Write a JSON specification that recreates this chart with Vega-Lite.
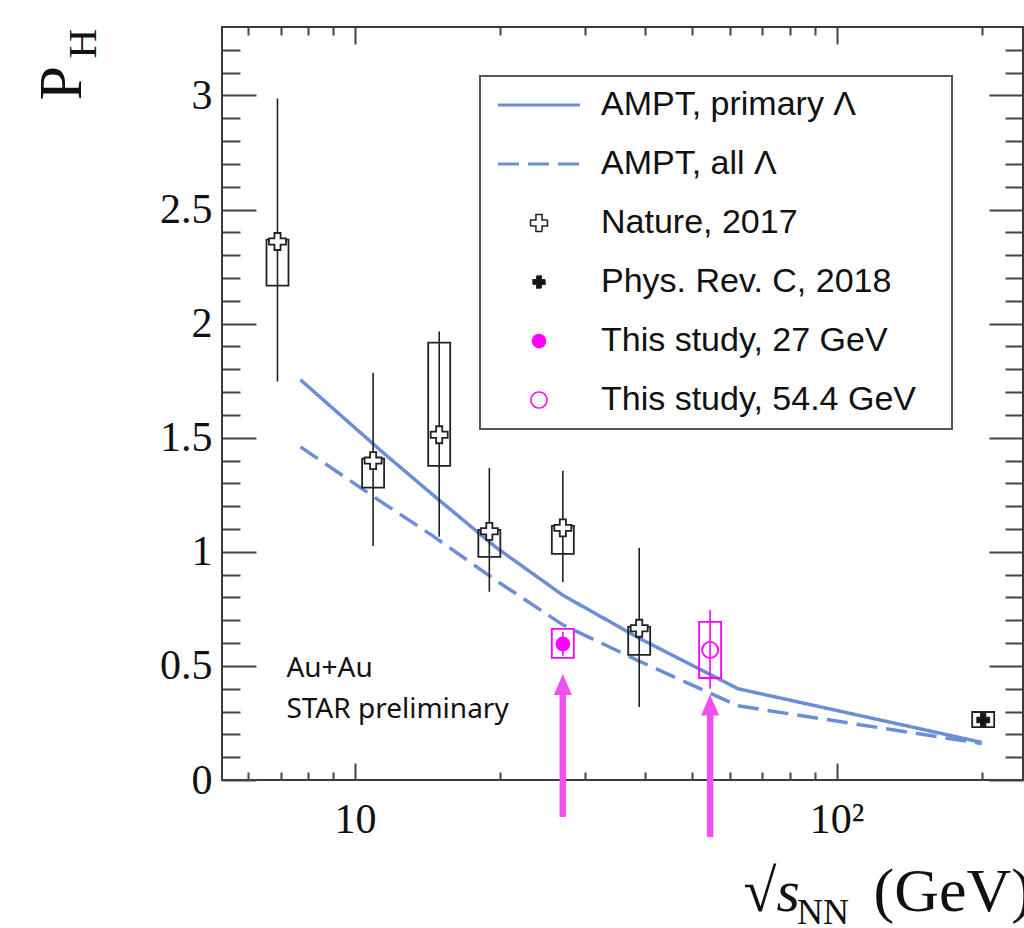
{
  "$schema": "https://vega.github.io/schema/vega-lite/v6.json",
  "width": 801,
  "height": 753,
  "autosize": {"type": "none"},
  "padding": {"left": 222, "top": 27, "right": 1, "bottom": 148},
  "background": "white",
  "title": {"text": "NN", "orient": "bottom", "anchor": "start", "frame": "group", "font": "Liberation Serif", "fontSize": 36, "fontWeight": "normal", "color": "#111", "dx": 575, "offset": -26, "baseline": "top", "align": "left"},
  "config": {
    "view": {"stroke": "#3a3a3a", "strokeWidth": 2},
    "axis": {"grid": false, "domain": false, "tickColor": "#444", "tickWidth": 2, "labelFont": "Liberation Serif", "labelFontSize": 42, "labelColor": "#111", "titleColor": "#111", "titleFontWeight": "normal", "labelOverlap": false, "labelFlush": false, "labelBound": false}
  },
  "datasets": {
    "ampt": [
      {"series": "AMPT, primary Λ", "E": 7.7, "P": 1.754},
      {"series": "AMPT, primary Λ", "E": 11.5, "P": 1.43},
      {"series": "AMPT, primary Λ", "E": 14.5, "P": 1.25},
      {"series": "AMPT, primary Λ", "E": 19.6, "P": 1.02},
      {"series": "AMPT, primary Λ", "E": 27, "P": 0.81},
      {"series": "AMPT, primary Λ", "E": 39, "P": 0.62},
      {"series": "AMPT, primary Λ", "E": 62.4, "P": 0.40},
      {"series": "AMPT, primary Λ", "E": 200, "P": 0.165},
      {"series": "AMPT, all Λ", "E": 7.7, "P": 1.46},
      {"series": "AMPT, all Λ", "E": 11.5, "P": 1.21},
      {"series": "AMPT, all Λ", "E": 14.5, "P": 1.07},
      {"series": "AMPT, all Λ", "E": 19.6, "P": 0.875},
      {"series": "AMPT, all Λ", "E": 27, "P": 0.68},
      {"series": "AMPT, all Λ", "E": 39, "P": 0.52},
      {"series": "AMPT, all Λ", "E": 62.4, "P": 0.325},
      {"series": "AMPT, all Λ", "E": 200, "P": 0.16}
    ],
    "points": [
      {"series": "Nature, 2017", "E": 6.9, "P": 2.36, "lo": 1.746, "hi": 2.987, "slo": 2.167, "shi": 2.368},
      {"series": "Nature, 2017", "E": 10.9, "P": 1.40, "lo": 1.026, "hi": 1.785, "slo": 1.281, "shi": 1.408},
      {"series": "Nature, 2017", "E": 14.95, "P": 1.513, "lo": 1.066, "hi": 1.965, "slo": 1.377, "shi": 1.917},
      {"series": "Nature, 2017", "E": 19.0, "P": 1.09, "lo": 0.825, "hi": 1.368, "slo": 0.978, "shi": 1.096},
      {"series": "Nature, 2017", "E": 27.0, "P": 1.105, "lo": 0.868, "hi": 1.355, "slo": 0.991, "shi": 1.114},
      {"series": "Nature, 2017", "E": 38.9, "P": 0.665, "lo": 0.32, "hi": 1.018, "slo": 0.548, "shi": 0.671},
      {"series": "Phys. Rev. C, 2018", "E": 201.5, "P": 0.263, "lo": 0.25, "hi": 0.276, "slo": 0.232, "shi": 0.298},
      {"series": "This study, 27 GeV", "E": 27.0, "P": 0.596, "lo": 0.545, "hi": 0.65, "slo": 0.535, "shi": 0.662},
      {"series": "This study, 54.4 GeV", "E": 54.6, "P": 0.57, "lo": 0.40, "hi": 0.745, "slo": 0.447, "shi": 0.693}
    ],
    "arrows": [
      {"E": 27.0, "tail": -0.162, "base": 0.38, "head": 0.419},
      {"E": 54.6, "tail": -0.25, "base": 0.29, "head": 0.329}
    ]
  },
  "layer": [
    {
      "data": {"name": "ampt"},
      "mark": {"type": "line", "strokeWidth": 3.5},
      "encoding": {
        "x": {"field": "E", "type": "quantitative", "scale": {"type": "log", "domain": [5.42, 238], "nice": false},
          "axis": {"orient": "bottom", "values": [6,7,8,9,10,20,30,40,50,60,70,80,90,100,200],
            "tickSize": {"condition": {"test": "datum.value == 10 || datum.value == 100", "value": -17}, "value": -8},
            "labelExpr": "datum.value == 10 ? '10' : datum.value == 100 ? '10²' : ''",
            "labelPadding": 36, "labelBaseline": "top",
            "title": "(GeV)", "titleFont": "Liberation Serif", "titleFontSize": 62, "titleX": 651, "titleY": 130, "titleAlign": "left", "titleBaseline": "alphabetic", "titleAngle": 0}},
        "y": {"field": "P", "type": "quantitative", "scale": {"domain": [0, 3.3], "nice": false, "zero": false},
          "axis": {"orient": "left", "values": [0,0.1,0.2,0.3,0.4,0.5,0.6,0.7,0.8,0.9,1,1.1,1.2,1.3,1.4,1.5,1.6,1.7,1.8,1.9,2,2.1,2.2,2.3,2.4,2.5,2.6,2.7,2.8,2.9,3,3.1,3.2],
            "tickSize": {"condition": {"test": "abs(datum.value*2 - round(datum.value*2)) < 0.001", "value": -34}, "value": -18},
            "labelExpr": "abs(datum.value*2 - round(datum.value*2)) < 0.001 ? '' + round(datum.value*10)/10 : ''",
            "labelPadding": 44, "labelAlign": "right", "labelBaseline": "middle",
            "title": "P", "titleFont": "Liberation Serif", "titleFontSize": 62, "titleX": -142, "titleY": 73, "titleAngle": 270, "titleAlign": "left", "titleBaseline": "alphabetic"}},
        "stroke": {"field": "series", "type": "nominal",
          "scale": {"domain": ["AMPT, primary Λ", "AMPT, all Λ", "Nature, 2017", "Phys. Rev. C, 2018", "This study, 27 GeV", "This study, 54.4 GeV"], "range": ["#6a8fd6", "#6a8fd6", "#222222", "#222222", "#ff00ff", "#ff00ff"]},
          "legend": {"title": " ", "titleOrient": "right", "titleFontSize": 1, "titlePadding": 24, "orient": "none", "legendX": 258, "legendY": 49, "padding": 12, "strokeColor": "#555", "fillColor": "white", "labelFont": "Liberation Sans", "labelFontSize": 34, "labelColor": "#111", "labelOffset": 45, "symbolOffset": 30, "rowPadding": 25, "labelLimit": 0, "symbolFillColor": "white", "symbolStrokeColor": "#222",
            "encode": {"symbols": {"update": {"fill": {"scale": "fill", "field": "value"}, "stroke": {"scale": "stroke", "field": "value"}, "shape": {"scale": "shape", "field": "value"}, "size": {"signal": "datum.value == 'Nature, 2017' ? 196 : datum.value == 'Phys. Rev. C, 2018' ? 121 : datum.value == 'This study, 27 GeV' ? 196 : datum.value == 'This study, 54.4 GeV' ? 196 : 1681"}, "strokeDash": {"scale": "strokeDash", "field": "value"}, "strokeWidth": {"signal": "indexof(['AMPT, primary Λ','AMPT, all Λ'], datum.value) >= 0 ? 3 : 1.5"}, "opacity": {"value": 1}}}, "legend": {"update": {"strokeWidth": {"value": 2}}}}}},
        "strokeDash": {"field": "series", "type": "nominal",
          "scale": {"domain": ["AMPT, primary Λ", "AMPT, all Λ", "Nature, 2017", "Phys. Rev. C, 2018", "This study, 27 GeV", "This study, 54.4 GeV"], "range": [[1, 0], [21, 9], [1, 0], [1, 0], [1, 0], [1, 0]]},
          "legend": {"title": " ", "titleOrient": "right", "titleFontSize": 1, "titlePadding": 24, "orient": "none", "legendX": 258, "legendY": 49, "padding": 12, "strokeColor": "#555", "fillColor": "white", "labelFont": "Liberation Sans", "labelFontSize": 34, "labelColor": "#111", "labelOffset": 45, "symbolOffset": 30, "rowPadding": 25, "labelLimit": 0, "symbolFillColor": "white", "symbolStrokeColor": "#222"}}
      }
    },
    {
      "data": {"name": "points"},
      "mark": {"type": "bar", "width": 22, "filled": false, "strokeWidth": 1.8},
      "encoding": {
        "x": {"field": "E", "type": "quantitative", "scale": {"type": "log", "domain": [5.42, 238], "nice": false},
          "axis": {"orient": "top", "values": [6,7,8,9,10,20,30,40,50,60,70,80,90,100,200],
            "tickSize": {"condition": {"test": "datum.value == 10 || datum.value == 100", "value": -17}, "value": -8},
            "labels": false,
            "title": "√s", "titleFont": "Liberation Serif", "titleFontStyle": "italic", "titleFontSize": 60, "titleX": 521, "titleY": 883, "titleAlign": "left", "titleBaseline": "alphabetic", "titleAngle": 0}},
        "y": {"field": "slo", "type": "quantitative", "scale": {"domain": [0, 3.3], "nice": false, "zero": false},
          "axis": {"orient": "right", "values": [0,0.1,0.2,0.3,0.4,0.5,0.6,0.7,0.8,0.9,1,1.1,1.2,1.3,1.4,1.5,1.6,1.7,1.8,1.9,2,2.1,2.2,2.3,2.4,2.5,2.6,2.7,2.8,2.9,3,3.1,3.2],
            "tickSize": {"condition": {"test": "abs(datum.value*2 - round(datum.value*2)) < 0.001", "value": -34}, "value": -18},
            "labels": false,
            "title": "H", "titleFont": "Liberation Serif", "titleFontSize": 41, "titleX": -928, "titleY": 31, "titleAngle": 270, "titleAlign": "left", "titleBaseline": "alphabetic"}},
        "y2": {"field": "shi"},
        "stroke": {"condition": {"test": "indexof(datum.series, 'This study') >= 0", "value": "#ff00ff"}, "value": "#222222"}
      }
    },
    {
      "data": {"name": "points"},
      "mark": {"type": "rule", "strokeWidth": 1.6},
      "encoding": {
        "x": {"field": "E", "type": "quantitative", "scale": {"type": "log", "domain": [5.42, 238], "nice": false}, "axis": null},
        "y": {"field": "lo", "type": "quantitative", "scale": {"domain": [0, 3.3], "nice": false, "zero": false}, "axis": null},
        "y2": {"field": "hi"},
        "stroke": {"condition": {"test": "indexof(datum.series, 'This study') >= 0", "value": "#ff00ff"}, "value": "#222222"}
      }
    },
    {
      "data": {"name": "points"},
      "mark": {"type": "point", "opacity": 1, "strokeWidth": 1.8},
      "encoding": {
        "x": {"field": "E", "type": "quantitative", "scale": {"type": "log", "domain": [5.42, 238], "nice": false}, "axis": null},
        "y": {"field": "P", "type": "quantitative", "scale": {"domain": [0, 3.3], "nice": false, "zero": false}, "axis": null},
        "stroke": {"field": "series", "type": "nominal"},
        "fill": {"field": "series", "type": "nominal",
          "scale": {"domain": ["AMPT, primary Λ", "AMPT, all Λ", "Nature, 2017", "Phys. Rev. C, 2018", "This study, 27 GeV", "This study, 54.4 GeV"], "range": ["transparent", "transparent", "white", "#111111", "#ff00ff", "transparent"]},
          "legend": {"title": " ", "titleOrient": "right", "titleFontSize": 1, "titlePadding": 24, "orient": "none", "legendX": 258, "legendY": 49, "padding": 12, "strokeColor": "#555", "fillColor": "white", "labelFont": "Liberation Sans", "labelFontSize": 34, "labelColor": "#111", "labelOffset": 45, "symbolOffset": 30, "rowPadding": 25, "labelLimit": 0, "symbolFillColor": "white", "symbolStrokeColor": "#222"}},
        "shape": {"field": "series", "type": "nominal",
          "scale": {"domain": ["AMPT, primary Λ", "AMPT, all Λ", "Nature, 2017", "Phys. Rev. C, 2018", "This study, 27 GeV", "This study, 54.4 GeV"], "range": ["M-2,0H2", "M-2,0H2", "M-0.36,-1H0.36V-0.36H1V0.36H0.36V1H-0.36V0.36H-1V-0.36H-0.36Z", "M-0.38,-1H0.38V-0.38H1V0.38H0.38V1H-0.38V0.38H-1V-0.38H-0.38Z", "circle", "circle"]},
          "legend": {"title": " ", "titleOrient": "right", "titleFontSize": 1, "titlePadding": 24, "orient": "none", "legendX": 258, "legendY": 49, "padding": 12, "strokeColor": "#555", "fillColor": "white", "labelFont": "Liberation Sans", "labelFontSize": 34, "labelColor": "#111", "labelOffset": 45, "symbolOffset": 30, "rowPadding": 25, "labelLimit": 0, "symbolFillColor": "white", "symbolStrokeColor": "#222"}},
        "size": {"field": "series", "type": "nominal",
          "scale": {"type": "ordinal", "domain": ["AMPT, primary Λ", "AMPT, all Λ", "Nature, 2017", "Phys. Rev. C, 2018", "This study, 27 GeV", "This study, 54.4 GeV"], "range": [1681, 1681, 289, 144, 169, 256]},
          "legend": {"title": " ", "titleOrient": "right", "titleFontSize": 1, "titlePadding": 24, "orient": "none", "legendX": 258, "legendY": 49, "padding": 12, "strokeColor": "#555", "fillColor": "white", "labelFont": "Liberation Sans", "labelFontSize": 34, "labelColor": "#111", "labelOffset": 45, "symbolOffset": 30, "rowPadding": 25, "labelLimit": 0, "symbolFillColor": "white", "symbolStrokeColor": "#222"}}
      }
    },
    {
      "data": {"name": "arrows"},
      "mark": {"type": "rule", "strokeWidth": 6.5, "color": "#f050f0", "strokeCap": "butt"},
      "encoding": {
        "x": {"field": "E", "type": "quantitative", "scale": {"type": "log", "domain": [5.42, 238], "nice": false}, "axis": null},
        "y": {"field": "tail", "type": "quantitative", "scale": {"domain": [0, 3.3], "nice": false, "zero": false}, "axis": null},
        "y2": {"field": "base"}
      }
    },
    {
      "data": {"name": "arrows"},
      "mark": {"type": "point", "shape": "M0,-1L0.86,1L-0.86,1Z", "size": 441, "filled": true, "fill": "#f050f0", "strokeWidth": 0, "opacity": 1},
      "encoding": {
        "x": {"field": "E", "type": "quantitative", "scale": {"type": "log", "domain": [5.42, 238], "nice": false}, "axis": null},
        "y": {"field": "head", "type": "quantitative", "scale": {"domain": [0, 3.3], "nice": false, "zero": false}, "axis": null}
      }
    },
    {
      "data": {"values": [{}]},
      "mark": {"type": "text", "align": "left", "baseline": "alphabetic", "font": "Noto Sans", "fontSize": 28, "lineHeight": 41, "color": "#111"},
      "encoding": {
        "x": {"datum": 7.2, "type": "quantitative", "scale": {"type": "log", "domain": [5.42, 238], "nice": false}, "axis": null},
        "y": {"datum": 0.452, "type": "quantitative", "scale": {"domain": [0, 3.3], "nice": false, "zero": false}, "axis": null},
        "text": {"value": ["Au+Au", "STAR preliminary"]}
      }
    }
  ],
  "resolve": {"axis": {"x": "independent", "y": "independent"}}
}
